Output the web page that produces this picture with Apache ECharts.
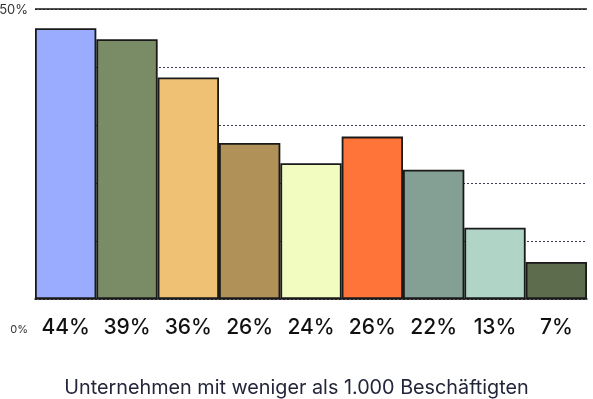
<!doctype html>
<html lang="de">
  <head>
    <meta charset="UTF-8" />
    <title>Unternehmen mit weniger als 1.000 Beschäftigten</title>
    <style>
      html, body { margin: 0; padding: 0; background: #fff; }
      #chart1 { width: 593px; height: 399px; }
    </style>
  </head>
  <body>
    <div id="chart1"></div>
    <script src="https://cdn.jsdelivr.net/npm/echarts@6/dist/echarts.min.js"></script>
    <script>
      // labels under the bars (as printed)
      const labels = ["44%", "39%", "36%", "26%", "24%", "26%", "22%", "13%", "7%"];
      // bar heights (percent)
      const values = [46.7, 44.8, 38.2, 26.9, 23.4, 28.0, 22.3, 12.3, 6.4];
      const colors = ["#9aacff", "#7a8c65", "#efc175", "#b09157", "#f2fcc0", "#ff7438", "#849f93", "#b0d4c5", "#5d6c4d"];
      const yTicks = [0, 50];

      const myChart = echarts.init(document.querySelector("#chart1"));

      const option = {
        animation: false,
        textStyle: { fontFamily: "Inter" },
        title: {
          text: "Unternehmen mit weniger als 1.000 Beschäftigten",
          left: "center",
          top: 373,
          textStyle: { fontSize: 19.8, fontWeight: 400, color: "#23263a", fontFamily: "Inter" },
        },
        grid: { left: 35, right: 6, top: 9, bottom: 100, containLabel: false, outerBoundsMode: "none" },
        xAxis: {
          type: "category",
          data: labels,
          axisLine: { lineStyle: { color: "#1a1a1a", width: 1.5 } },
          axisTick: { show: false },
          axisLabel: { interval: 0, fontSize: 21, fontWeight: 500, color: "#111", margin: 18 },
        },
        yAxis: {
          type: "value",
          min: 0,
          max: 50,
          interval: 10,
          axisLine: { show: false },
          axisTick: { show: false },
          axisLabel: {
            margin: 7,
            formatter: (v) => (v === yTicks[1] ? "{a|50%}" : v === yTicks[0] ? "{b|0%}" : ""),
            rich: {
              a: { fontSize: 13, color: "#333", fontFamily: "Inter", padding: [2, 0, 0, 0] },
              b: { fontSize: 11, color: "#333", fontFamily: "Inter", padding: [62, 0, 0, 0] },
            },
          },
          splitLine: {
            lineStyle: { color: "#3a3e52", width: 1, type: [2, 2] },
          },
        },
        series: [
          {
            type: "bar",
            barCategoryGap: 0,
            data: values.map((v, i) => ({ value: v, itemStyle: { color: colors[i] } })),
            itemStyle: { borderColor: "#1a1a1a", borderWidth: 1.8 },
            markLine: {
              silent: true,
              symbol: "none",
              label: { show: false },
              lineStyle: { color: "#1a1a1a", width: 1.5, type: "solid" },
              data: [{ yAxis: 50 }],
            },
          },
        ],
      };

      myChart.setOption(option);
    </script>
  </body>
</html>
